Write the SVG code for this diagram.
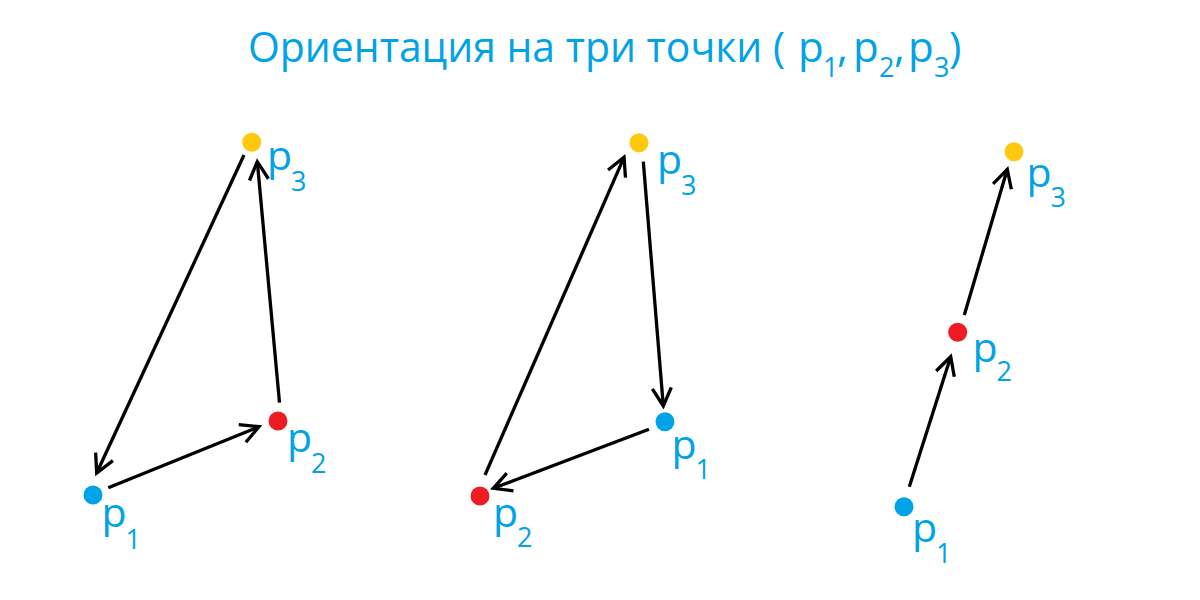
<svg xmlns="http://www.w3.org/2000/svg" width="1200" height="600" viewBox="0 0 1200 600">
<style>
  text { font-family: "Open Sans", "Noto Sans", "DejaVu Sans", sans-serif; fill: #00A2E8; }
  .title { font-size: 42px; }
  .lbl { font-size: 41px; }
  .sub { font-size: 27px; }
  .conn line { stroke: #000; stroke-width: 3.3; fill: none; marker-end: url(#arr); }
  .blue { fill: #00A2E8; }
  .red { fill: #ED1C24; }
  .yellow { fill: #FFC90E; }
</style>
<defs>
  <marker id="arr" markerUnits="userSpaceOnUse" markerWidth="40" markerHeight="40" viewBox="-25 -20 30 40" refX="0" refY="0" orient="auto">
    <path d="M -18 -9.5 L 0 0 L -18 9.5" fill="none" stroke="#000" stroke-width="3.3" stroke-linejoin="miter"/>
  </marker>
</defs>
<rect width="1200" height="600" fill="#fff"/>

<g id="title">
  <text class="title" x="248" y="62" textLength="537" lengthAdjust="spacingAndGlyphs">Ориентация на три точки (</text>
  <text class="title" x="798" y="62">p</text>
  <text class="sub" x="823" y="77">1</text>
  <text class="title" x="837" y="62">,</text>
  <text class="title" x="853" y="62">p</text>
  <text class="sub" x="879" y="77">2</text>
  <text class="title" x="894" y="62">,</text>
  <text class="title" x="908" y="62">p</text>
  <text class="sub" x="934" y="77">3</text>
  <text class="title" x="949" y="62">)</text>
</g>

<g id="connectors" class="conn">
  <line x1="244" y1="155" x2="96.7" y2="473"/>
  <line x1="108.3" y1="487.7" x2="259" y2="426.7"/>
  <line x1="279.5" y1="402.7" x2="257.3" y2="161.7"/>
  <line x1="485" y1="475" x2="624" y2="157.3"/>
  <line x1="643.3" y1="161.7" x2="663.3" y2="406"/>
  <line x1="649" y1="429.3" x2="493.3" y2="488.3"/>
  <line x1="909.3" y1="486.7" x2="950.7" y2="356.7"/>
  <line x1="964.3" y1="315" x2="1007.3" y2="169.3"/>
</g>

<g id="a-p1"><circle class="blue" cx="93" cy="495" r="9.5"/><text class="lbl" x="101.5" y="527">p</text><text class="sub" x="125.5" y="549">1</text></g>
<g id="a-p2"><circle class="red" cx="278" cy="421" r="9.5"/><text class="lbl" x="287" y="452">p</text><text class="sub" x="311" y="473">2</text></g>
<g id="a-p3"><circle class="yellow" cx="251.7" cy="142.3" r="9.5"/><text class="lbl" x="267" y="170">p</text><text class="sub" x="291" y="191">3</text></g>

<g id="b-p1"><circle class="blue" cx="665" cy="421.7" r="9.5"/><text class="lbl" x="671.5" y="458.7">p</text><text class="sub" x="695.5" y="479">1</text></g>
<g id="b-p2"><circle class="red" cx="480" cy="496" r="9.5"/><text class="lbl" x="493" y="527">p</text><text class="sub" x="517" y="547">2</text></g>
<g id="b-p3"><circle class="yellow" cx="639" cy="142.7" r="9.5"/><text class="lbl" x="657" y="173.5">p</text><text class="sub" x="681" y="195">3</text></g>

<g id="c-p1"><circle class="blue" cx="904" cy="506.7" r="9.5"/><text class="lbl" x="912" y="542">p</text><text class="sub" x="936" y="562.5">1</text></g>
<g id="c-p2"><circle class="red" cx="957.7" cy="332.3" r="9.5"/><text class="lbl" x="972.5" y="362">p</text><text class="sub" x="996.5" y="381">2</text></g>
<g id="c-p3"><circle class="yellow" cx="1014" cy="151.7" r="9.5"/><text class="lbl" x="1026.5" y="187">p</text><text class="sub" x="1050.5" y="207">3</text></g>
</svg>
